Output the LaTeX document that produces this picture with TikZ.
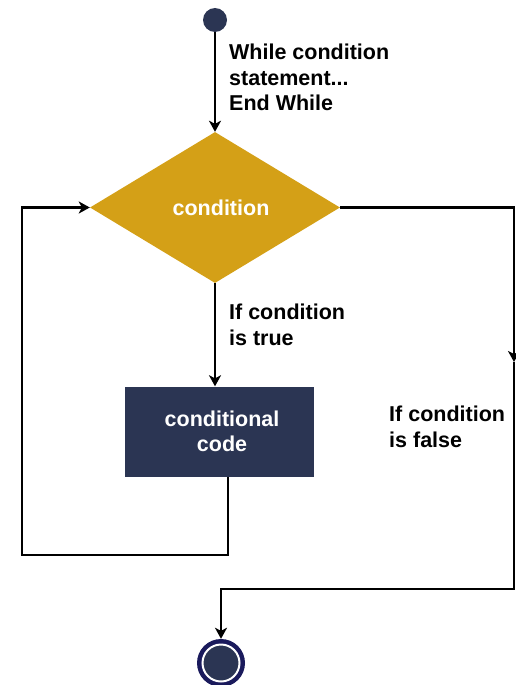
\documentclass[tikz,border=0pt]{standalone}
\usepackage{fontspec}
\setmainfont{Liberation Sans}
\usetikzlibrary{shapes.geometric,arrows.meta}
\definecolor{gold}{RGB}{212,160,23}
\definecolor{navy}{RGB}{43,53,83}
\definecolor{ring}{RGB}{26,26,92}
\tikzset{
  flow/.style={line width=2.6pt,-{Stealth[length=11pt,width=12pt,inset=3pt]}},
  lbl/.style={font=\fontsize{21.5}{25.5}\selectfont\bfseries,align=left,inner sep=0pt,anchor=north west},
  wlbl/.style={font=\fontsize{21.5}{25.5}\selectfont\bfseries,text=white,align=center}
}
\begin{document}
\begin{tikzpicture}[x=1pt,y=-1pt]
\useasboundingbox (0,0) rectangle (515,685);

% start and end markers
\node[circle,fill=navy,minimum size=24pt,inner sep=0pt] (start) at (215,20) {};
\node[circle,fill=ring,minimum size=48pt,inner sep=0pt] (end) at (221,663) {};
\node[circle,fill=navy,draw=white,line width=2pt,minimum size=37pt,inner sep=0pt] (endin) at (end.center) {};

% decision and body
\node[diamond,fill=gold,minimum width=250pt,minimum height=151pt,inner sep=0pt,wlbl] (cond) at (215,207.5) {\hspace*{12pt}condition};
\node[rectangle,fill=navy,minimum width=189pt,minimum height=90pt,inner sep=0pt,wlbl] (body) at (219,431.5) {\hspace*{6pt}conditional\\\hspace*{6pt}code};

% helper corners
\coordinate (bodyout) at (228,477);
\coordinate (loopbr) at (228,555);
\coordinate (loopbl) at (22,555);
\coordinate (looptl) at (22,207.5);
\coordinate (rtop) at (514,207.5);
\coordinate (rmid) at (514,362);
\coordinate (rbot) at (514,589);
\coordinate (ebend) at (221,589);

% connectors
\draw[flow] (start.south) -- (cond.north);
\draw[flow] (cond.south) -- (cond.south |- body.north);
\draw[flow] (bodyout) -- (loopbr) -- (loopbl) -- (looptl) -- (cond.west);
\draw[flow] (cond.east) -- (rtop) -- (rmid);
\draw[flow] (rmid) -- (rbot) -- (ebend) -- (end.north);

% labels
\node[lbl] (l1) at (229,44) {While condition\\statement...\\End While};
\node[lbl] (l2) at (229,304) {If condition\\is true};
\node[lbl] (l3) at (389,406) {If condition\\is false};
\end{tikzpicture}
\end{document}
